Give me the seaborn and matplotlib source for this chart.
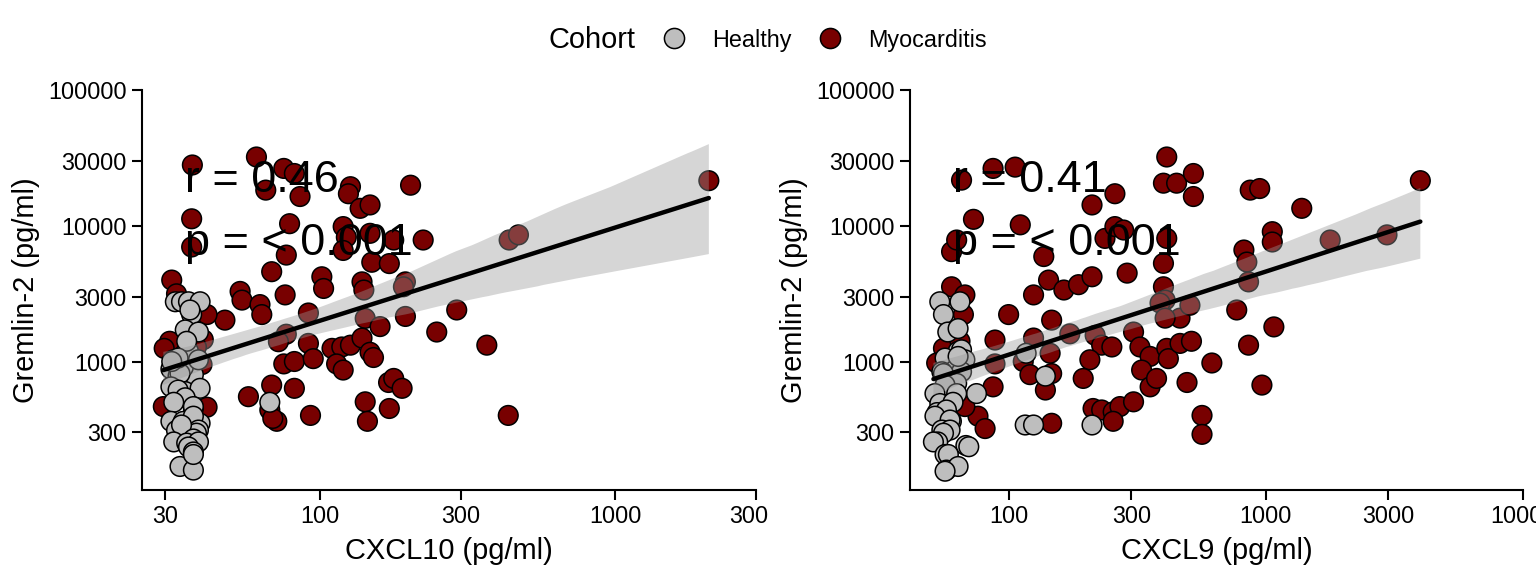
import numpy as np
import pandas as pd
import matplotlib
matplotlib.use("Agg")
import matplotlib.pyplot as plt
import seaborn as sns
from matplotlib.lines import Line2D
from matplotlib.transforms import Bbox, TransformedBbox

sns.set_theme(style="ticks")
plt.rcParams["font.family"] = ["Liberation Sans", "DejaVu Sans"]
plt.rcParams["text.color"] = "black"
plt.rcParams["axes.labelcolor"] = "black"
plt.rcParams["xtick.color"] = "black"
plt.rcParams["ytick.color"] = "black"

# ---------------- data (pg/ml) ----------------
cohorts = ["Healthy", "Myocarditis"]
cohort_colors = ["#BEBEBE", "#780000"]

cxcl10_myo = [37, 61, 65.6, 75.5, 82, 85.7, 127, 125, 137, 148,
              203, 36.8, 79, 77, 36.8, 120, 123, 120, 148, 178,
              224, 150, 172, 31.5, 68.7, 101.6, 103, 139, 141, 195,
              192, 53.7, 54.5, 76.3, 62.7, 63.6, 91.5, 47.7, 77, 72.4,
              91.5, 142.5, 160, 195, 291, 249, 110, 118.7, 127, 139,
              148, 152, 75.5, 82, 95, 114, 120, 57.3, 68.7, 82,
              67.7, 71.5, 69.3, 93, 171, 178, 190, 142.5, 145, 172,
              368, 435, 438, 471, 2080, 31, 29.7, 40.3, 41.5, 29.5,
              41.5, 32.7, 38.2, 39.9]
gremlin_myo_a = [28200, 32300, 18400, 26600, 24400, 16500, 19500, 17300, 13500, 14300,
                 20000, 11300, 10400, 6100, 7000, 9900, 8270, 6600, 8830, 7880,
                 7880, 5400, 5280, 3990, 4600, 4220, 3460, 3870, 3370, 3870,
                 3560, 3290, 2840, 3100, 2630, 2220, 2280, 2020, 1590, 1400,
                 1360, 2080, 1810, 2150, 2400, 1650, 1250, 1280, 1320, 1490,
                 1170, 1070, 960, 1000, 1050, 960, 865, 550, 670, 634,
                 439, 362, 380, 400, 700, 750, 634, 504, 362, 450,
                 1320, 400, 7880, 8600, 21600, 1410, 1250, 1450, 460, 465,
                 2220, 3160, 1280, 950]
cxcl10_healthy = [32.4, 34, 35.9, 39.3, 36.8, 36.3, 35, 38.8, 35.9, 35.4,
                  32, 31.3, 33.6, 37.3, 33.1, 34.5, 33.6, 38.8, 33.1, 31.5,
                  31.3, 35, 39.3, 33.1, 35, 32, 37.3, 37.3, 31.3, 34.5,
                  39.3, 37.3, 32.7, 38.8, 38.2, 34, 32, 37.3, 35.4, 38.8,
                  35.9, 37.3, 33.6, 37.3, 37.3, 67.7]
gremlin_healthy_a = [2760, 2760, 2760, 2760, 2220, 2400, 1710, 1650, 1190, 1410,
                     1030, 880, 865, 800, 780, 910, 815, 1030, 1060, 1000,
                     650, 600, 634, 616, 540, 500, 450, 465, 362, 362,
                     350, 395, 310, 312, 296, 340, 255, 268, 250, 255,
                     234, 215, 168, 158, 206, 500]

cxcl9_myo = [65.6, 87, 106, 73, 111, 60, 62.8, 137, 211, 259,
             237, 259, 280, 412, 400, 450, 523, 523, 412, 400,
             400, 406, 289, 125, 143, 164, 187, 211, 100, 147,
             88.5, 125, 145, 173, 217, 230, 252, 306, 324, 355,
             388, 464, 507, 406, 412, 418, 464, 514, 617, 207,
             114, 121, 88.5, 87, 139, 147, 195, 329, 355, 376,
             494, 213, 230, 255, 271, 306, 255, 147, 76, 81,
             565, 565, 60, 67.6, 66.7, 55.8, 52.5, 64.7, 67.6, 870,
             947, 1380, 1060, 1060, 822, 844, 857, 771, 1075, 1780,
             2960, 3990, 857, 966]
gremlin_myo_b = [21800, 26600, 27200, 11200, 10200, 6470, 7880, 5950, 14300, 17300,
                 8100, 9900, 9340, 32300, 20700, 20700, 24400, 16500, 8100, 5300,
                 3560, 2840, 4490, 3100, 3990, 3370, 3690, 4220, 2220, 2020,
                 1440, 1490, 1150, 1600, 1560, 1320, 1280, 1650, 1280, 1090,
                 2700, 2090, 2600, 2090, 1250, 1050, 1360, 1410, 975, 1030,
                 1000, 800, 960, 650, 616, 815, 750, 865, 650, 750,
                 700, 450, 439, 425, 465, 504, 362, 350, 395, 320,
                 400, 290, 3560, 3100, 2220, 1250, 975, 1410, 465, 18400,
                 18900, 13500, 9080, 7620, 6650, 5420, 3870, 2400, 1800, 7880,
                 8600, 21600, 1320, 670]
cxcl9_healthy = [54, 64.7, 55.8, 58, 63.6, 63.6, 65.6, 56.6, 67.6, 61.8,
                 55, 65.6, 55.8, 62.8, 56.6, 75, 62.8, 51.7, 54, 60.8,
                 52.7, 56.6, 57.3, 59.9, 51.7, 59.2, 55, 59.2, 55.8, 53,
                 51, 68.2, 70, 56.6, 58.3, 57.3, 63.6, 56.6, 117, 139,
                 116, 125, 211, 63.6]
gremlin_healthy_b = [2760, 2760, 2220, 1650, 1750, 1190, 1220, 1060, 1030, 865,
                     840, 840, 815, 690, 670, 580, 580, 580, 490, 500,
                     420, 420, 439, 362, 395, 370, 312, 312, 296, 255,
                     255, 240, 235, 206, 206, 158, 168, 155, 1150, 780,
                     340, 340, 340, 1090]

x_ticks_a = [30, 100, 300, 1000, 3000]
x_ticks_b = [100, 300, 1000, 3000, 10000]
y_ticks = [300, 1000, 3000, 10000, 30000, 100000]
stat_labels_a = ["r = 0.46", "p = < 0.001"]
stat_labels_b = ["r = 0.41", "p = < 0.001"]


def make_df(xm, ym, xh, yh):
    df = pd.DataFrame({
        "x": list(xm) + list(xh),
        "y": list(ym) + list(yh),
        "Cohort": ["Myocarditis"] * len(xm) + ["Healthy"] * len(xh),
    })
    df["log_x"] = np.log10(df["x"])
    df["log_y"] = np.log10(df["y"])
    return df


df_a = make_df(cxcl10_myo, gremlin_myo_a, cxcl10_healthy, gremlin_healthy_a)
df_b = make_df(cxcl9_myo, gremlin_myo_b, cxcl9_healthy, gremlin_healthy_b)

TICK_FS = 16.8
TITLE_FS = 20.9
STAT_FS = 32.4

fig = plt.figure(figsize=(15.36, 5.76), dpi=100)
ax_a = fig.add_axes([0.09245, 0.1493, 0.3996, 0.6936])
ax_b = fig.add_axes([0.5923, 0.1493, 0.3992, 0.6936])

panels = [
    (ax_a, df_a, "CXCL10 (pg/ml)", x_ticks_a, (1.3976, np.log10(3000)), stat_labels_a, 1.543),
    (ax_b, df_b, "CXCL9 (pg/ml)", x_ticks_b, (1.6156, 4.0), stat_labels_b, 1.784),
]

for ax, df, xlabel, xt, xlim, stats, tx in panels:
    sns.scatterplot(data=df, x="log_x", y="log_y", hue="Cohort", hue_order=cohorts,
                    palette=cohort_colors, s=200, edgecolor="black", linewidth=1.1,
                    legend=False, ax=ax, zorder=1)
    sns.regplot(data=df, x="log_x", y="log_y", scatter=False, ax=ax, color="black",
                ci=95, seed=0, line_kws={"lw": 3.2, "zorder": 3})
    band = ax.collections[-1]
    band.set_facecolor("#999999")
    band.set_edgecolor("none")
    band.set_alpha(0.4)

    ax.set_xlim(*xlim)
    ax.set_ylim(2.0517, 5.0)
    ax.set_xticks(np.log10(xt))
    ax.set_xticklabels([str(v) for v in xt])
    ax.set_yticks(np.log10(y_ticks))
    ax.set_yticklabels([str(v) for v in y_ticks])
    ax.set_xlabel(xlabel, fontsize=TITLE_FS, labelpad=6, color="black")
    ax.set_ylabel("Gremlin-2 (pg/ml)", fontsize=TITLE_FS, labelpad=6, color="black")
    ax.tick_params(axis="both", labelsize=TICK_FS, length=7, width=1.5,
                   color="black", labelcolor="black", pad=4)
    for side in ["top", "right"]:
        ax.spines[side].set_visible(False)
    for side in ["left", "bottom"]:
        ax.spines[side].set_linewidth(1.5)
        ax.spines[side].set_color("black")
    ax.grid(False)

    ax.text(tx, 4.25, stats[0], fontsize=STAT_FS, ha="left", va="baseline",
            color="black", zorder=5)
    ax.text(tx, 3.786, stats[1], fontsize=STAT_FS, ha="left", va="baseline",
            color="black", zorder=5)

# clip left panel tick labels at the half-figure boundary
clip = TransformedBbox(Bbox([[0, 0], [0.5, 1]]), fig.transFigure)
for lab in ax_a.get_xticklabels():
    lab.set_clip_box(clip)
    lab.set_clip_on(True)

# legend
fig.text(548 / 1536, 1 - 40 / 576, "Cohort", fontsize=TITLE_FS, ha="left", va="center",
         color="black")
handles = [Line2D([], [], ls="", marker="o", markersize=14.5, markerfacecolor=c,
                  markeredgecolor="black", markeredgewidth=1.1) for c in cohort_colors]
fig.legend(handles, cohorts, loc="center left", bbox_to_anchor=(662.3 / 1536, 1 - 40 / 576),
           ncol=2, frameon=False, fontsize=TICK_FS, handlelength=1.0, handletextpad=1.12,
           columnspacing=1.17, borderpad=0, borderaxespad=0, labelcolor="black")

fig.savefig("out.png", dpi=100)
